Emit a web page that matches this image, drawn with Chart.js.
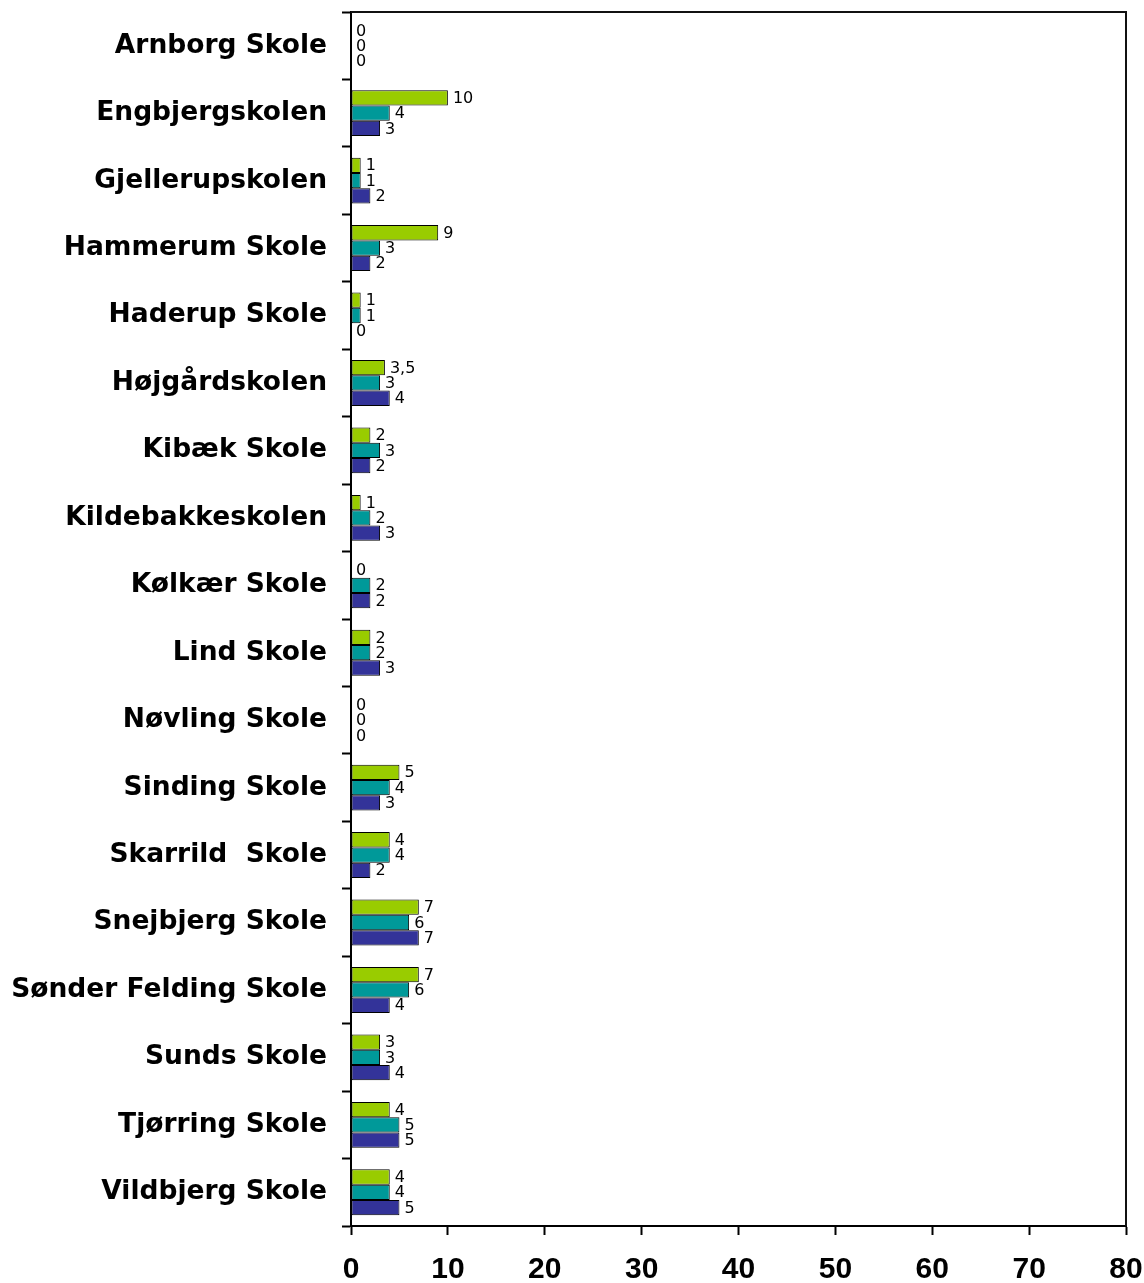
<!DOCTYPE html>
<html>
<head>
<meta charset="utf-8">
<script src="https://cdn.jsdelivr.net/npm/chart.js@4/dist/chart.umd.min.js"></script>
<style>
html,body{margin:0;padding:0;background:#fff;}
#wrap{width:1144px;height:1283px;position:relative;}
</style>
</head>
<body>
<div id="wrap"><canvas id="c" width="1144" height="1283"></canvas></div>
<script>
const categories = ["Arnborg Skole","Engbjergskolen","Gjellerupskolen","Hammerum Skole","Haderup Skole","Højgårdskolen","Kibæk Skole","Kildebakkeskolen","Kølkær Skole","Lind Skole","Nøvling Skole","Sinding Skole","Skarrild  Skole","Snejbjerg Skole","Sønder Felding Skole","Sunds Skole","Tjørring Skole","Vildbjerg Skole"];
const seriesGreen = [0,10,1,9,1,3.5,2,1,0,2,0,5,4,7,7,3,4,4];
const seriesTeal  = [0,4,1,3,1,3,3,2,2,2,0,4,4,6,6,3,5,4];
const seriesNavy  = [0,3,2,2,0,4,2,3,2,3,0,3,2,7,4,4,5,5];
const xTicks = [0,10,20,30,40,50,60,70,80];

const frame = {
  id:'frame',
  afterDatasetsDraw(chart){
    const {ctx, chartArea:a} = chart;
    ctx.save();
    ctx.strokeStyle = '#111';
    ctx.lineWidth = 2;
    ctx.beginPath();
    ctx.moveTo(a.left, a.top);
    ctx.lineTo(a.right, a.top);
    ctx.lineTo(a.right, a.bottom);
    ctx.stroke();
    ctx.restore();
  }
};
const valueLabels = {
  id:'valueLabels',
  afterDatasetsDraw(chart){
    const ctx = chart.ctx;
    ctx.save();
    ctx.font = '16px "DejaVu Sans"';
    ctx.fillStyle = '#000';
    ctx.textAlign = 'left';
    ctx.textBaseline = 'middle';
    chart.data.datasets.forEach((ds, i) => {
      const meta = chart.getDatasetMeta(i);
      meta.data.forEach((el, j) => {
        const v = ds.data[j];
        const txt = String(v).replace('.', ',');
        ctx.fillText(txt, el.x + 5, el.y + 1);
      });
    });
    ctx.restore();
  }
};
function noPad(scale){
  scale.paddingTop = 0; scale.paddingBottom = 0;
  scale.paddingLeft = 0; scale.paddingRight = 0;
}

new Chart(document.getElementById('c'), {
  type:'bar',
  data:{
    labels: categories,
    datasets:[
      {label:'A', data: seriesGreen, backgroundColor:'#99CC00', borderColor:'#000', borderWidth:1, borderSkipped:false},
      {label:'B', data: seriesTeal, backgroundColor:'#009999', borderColor:'#000', borderWidth:1, borderSkipped:false},
      {label:'C', data: seriesNavy, backgroundColor:'#333399', borderColor:'#000', borderWidth:1, borderSkipped:false}
    ]
  },
  options:{
    indexAxis:'y',
    responsive:false,
    animation:false,
    events:[],
    categoryPercentage:0.68,
    barPercentage:1,
    layout:{padding:{top:12,right:18,left:0,bottom:0}},
    plugins:{legend:{display:false},tooltip:{enabled:false}},
    scales:{
      x:{
        min:0,max:80,
        afterBuildTicks(scale){ scale.ticks = xTicks.map(v=>({value:v})); },
        afterFit(scale){ scale.height = 57; noPad(scale); },
        grid:{drawOnChartArea:false, tickLength:9, tickWidth:2, tickColor:'#000'},
        border:{color:'#000', width:2},
        ticks:{color:'#000', padding:17, font:{family:'"Liberation Sans", Arial', size:30, weight:'bold'}}
      },
      y:{
        afterFit(scale){ scale.width = 351; noPad(scale); },
        grid:{drawOnChartArea:false, tickLength:9, tickWidth:2, tickColor:'#000', offset:true},
        border:{color:'#000', width:2},
        ticks:{color:'#000', padding:15, autoSkip:false, font:{family:'"DejaVu Sans"', size:26.5, weight:'bold'}}
      }
    }
  },
  plugins:[frame, valueLabels]
});
</script>
</body>
</html>
